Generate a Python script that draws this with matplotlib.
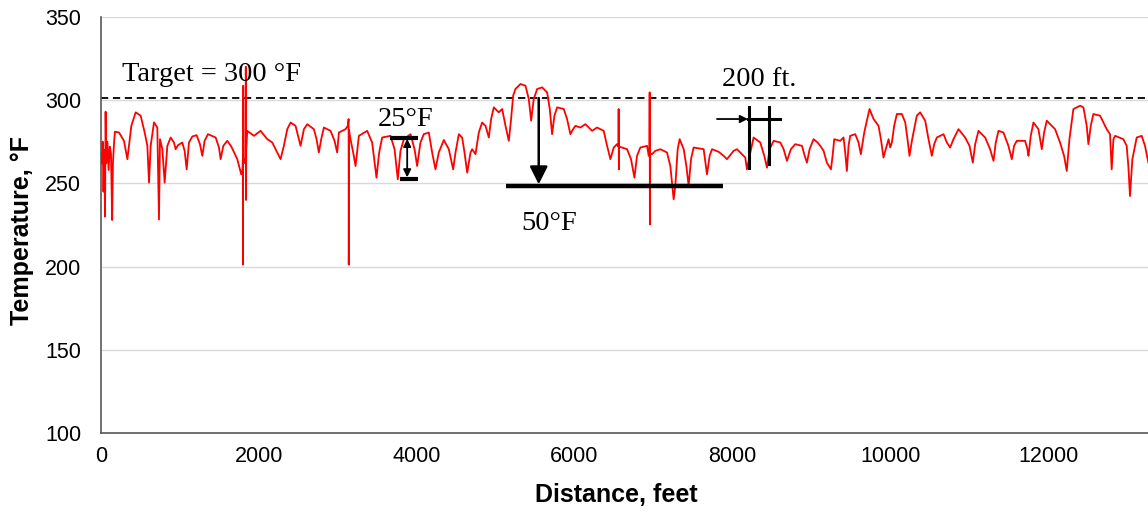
import numpy as np
import matplotlib
matplotlib.use("Agg")
import matplotlib.pyplot as plt

# Temperature trace (distance in feet, temperature in F)
distance = [
    5, 15, 25, 35, 45, 55, 62, 70, 85, 100, 115, 130, 145, 155, 170, 180,
    232, 295, 338, 388, 443, 506, 557, 591, 612, 633, 675, 717, 738, 751,
    781, 810, 844, 886, 928, 949, 979, 1034, 1063, 1089, 1118, 1160, 1215,
    1257, 1287, 1316, 1359, 1456, 1498, 1519, 1553, 1603, 1654, 1730, 1780,
    1797, 1800, 1802, 1805, 1810, 1814, 1836, 1838, 1840, 1843, 1856, 1941,
    2025, 2110, 2173, 2236, 2278, 2320, 2363, 2405, 2468, 2510, 2531, 2574,
    2616, 2700, 2734, 2763, 2793, 2827, 2911, 2962, 2995, 3017, 3101, 3130,
    3140, 3142, 3145, 3164, 3198, 3228, 3270, 3375, 3438, 3493, 3527, 3565,
    3671, 3722, 3763, 3797, 3840, 3924, 3975, 4008, 4050, 4092, 4156, 4198,
    4240, 4282, 4346, 4409, 4464, 4494, 4536, 4578, 4608, 4642, 4684, 4705,
    4747, 4789, 4831, 4874, 4916, 4945, 4979, 5042, 5085, 5127, 5169, 5198,
    5224, 5253, 5317, 5380, 5422, 5452, 5485, 5528, 5591, 5654, 5688, 5717,
    5747, 5781, 5865, 5907, 5949, 5983, 6013, 6076, 6139, 6181, 6224, 6287,
    6371, 6414, 6456, 6498, 6540, 6558, 6560, 6563, 6566, 6603, 6667, 6717,
    6760, 6793, 6835, 6920, 6941, 6950, 6953, 6956, 6960, 6983, 7025, 7088,
    7173, 7215, 7257, 7278, 7308, 7333, 7384, 7418, 7447, 7477, 7510, 7637,
    7679, 7713, 7743, 7827, 7890, 7932, 8017, 8059, 8122, 8164, 8185, 8228,
    8270, 8354, 8405, 8439, 8472, 8523, 8608, 8650, 8692, 8742, 8797, 8882,
    8911, 8945, 8979, 9029, 9080, 9114, 9156, 9198, 9249, 9270, 9291, 9367,
    9409, 9430, 9451, 9472, 9493, 9557, 9599, 9628, 9671, 9704, 9738, 9789,
    9852, 9882, 9915, 9949, 9979, 10000, 10021, 10050, 10084, 10147, 10190,
    10219, 10244, 10278, 10337, 10379, 10443, 10485, 10527, 10557, 10590,
    10675, 10717, 10759, 10801, 10865, 10949, 11004, 11046, 11076, 11118,
    11202, 11265, 11308, 11337, 11371, 11434, 11497, 11540, 11569, 11603,
    11708, 11738, 11751, 11780, 11814, 11877, 11920, 11949, 11983, 12088,
    12151, 12202, 12236, 12270, 12320, 12405, 12447, 12489, 12510, 12540,
    12573, 12658, 12742, 12784, 12805, 12827, 12848, 12953, 12995, 13016,
    13037, 13067, 13122, 13185, 13227, 13270,
]
temperature = [
    268, 262, 275, 245, 270, 230, 293, 262, 275, 258, 272, 268, 228, 262, 275, 281,
    280.5, 275.5, 264.5, 284.5, 292.6, 290.6, 280.5, 272.5, 250.4, 272.5, 286.6,
    283.5, 228.3, 276.5, 270.5, 250.4, 272.5, 277.5, 274.5, 270.5, 272.9, 274.5,
    269.5, 258.4, 274.5, 278.1, 278.9, 273.5, 266.5, 275.5, 279.5, 277.5, 271.5,
    264.5, 272.5, 275.5, 272.1, 264.5, 255.4, 258.4, 264, 201.2, 308.6, 262,
    264.5, 262, 320, 240, 270, 281.5, 278.5, 281.5, 276.5, 274.5, 268.5, 264.5,
    272.5, 282.5, 286.5, 284.5, 276.5, 272.5, 282.5, 285.5, 282.5, 276.5, 268.5,
    276.5, 283.5, 281.5, 275.5, 268.5, 280.5, 282.5, 284.5, 288.6, 201.2, 282,
    276.5, 268.5, 260.4, 278.5, 281.5, 274.5, 253.4, 268.5, 277.5, 278.5, 270.5,
    252.4, 269.5, 276.5, 279.5, 270.5, 260.4, 274.5, 279.5, 280.5, 268.5, 258.4,
    268.5, 276, 270.5, 258.4, 268.5, 279.5, 277.5, 268.5, 256.4, 268.5, 270.5,
    267.5, 280.5, 286.5, 284.5, 277.5, 288.6, 295.6, 292.6, 294.6, 284.5, 275.5,
    288.6, 302.6, 306.6, 309.6, 308.6, 300.6, 287.6, 300.6, 306.6, 307.6, 304.6,
    294.6, 279.5, 290.6, 295.6, 294.6, 288.6, 279.5, 282.5, 284.5, 283.5, 285.5,
    283.5, 281.5, 283.5, 281.5, 272.5, 264.5, 271.5, 273.5, 272, 294.6, 258.4,
    272, 271.5, 270.5, 264.5, 253.4, 266.5, 271.5, 272.5, 266.5, 268, 304.6,
    225.3, 268, 267.5, 269.5, 270.5, 268.5, 260.4, 240.4, 248.4, 270.5, 276.5,
    270.5, 260.4, 248.4, 264.5, 271.5, 270.5, 255.4, 266.5, 270.5, 268.9, 266.5,
    264.5, 269.5, 270.5, 267.5, 265.5, 258.4, 268.5, 277.5, 274.5, 266.5, 259.4,
    270.5, 275.5, 274.5, 270.5, 263.5, 270.5, 273.5, 272.5, 267.5, 262.4, 270.5,
    276.5, 274.5, 272.5, 269.5, 262.4, 258.4, 266.5, 276.5, 275.5, 277.5, 268.5,
    257.4, 272.5, 278.5, 279.5, 274.5, 267.5, 280.5, 287.6, 294.6, 288.6, 284.5,
    276.5, 265.5, 271.5, 276.5, 271.5, 274.5, 284.5, 291.6, 291.6, 286.6, 276.5,
    266.5, 276.5, 290.6, 292.6, 287.6, 276.5, 266.5, 273.5, 277.5, 279.5, 274.5,
    271.5, 276.5, 282.5, 277.5, 272.5, 262.4, 273.5, 281.5, 277.5, 270.5, 263.5,
    274.5, 281.5, 280.5, 272.5, 264.5, 272.5, 275.5, 275.5, 270.5, 266.5, 278.5,
    286.5, 282.5, 270.5, 280.5, 287.6, 282.5, 274.5, 266.5, 257.4, 276.5, 294.6,
    296.6, 295.6, 284.5, 273.5, 284.5, 291.6, 290.6, 282.5, 279.5, 258.4, 276.5,
    278.5, 276.5, 272.5, 260.4, 242.4, 264.5, 277.5, 278.5, 272.5, 262.4,
]

target = 301
x_ticks = [0, 2000, 4000, 6000, 8000, 10000, 12000]
y_ticks = [100, 150, 200, 250, 300, 350]

serif = "Liberation Serif"
sans = "Liberation Sans"

fig = plt.figure(figsize=(11.48, 5.14), dpi=100)
ax = fig.add_axes([100.7 / 1148, (514 - 433.3) / 514,
                   (1148 - 100.7) / 1148, (433.3 - 16.7) / 514])

ax.plot(distance, temperature, color="#ff0000", lw=1.3, zorder=3)
ax.axhline(target, color="black", lw=1.3, dashes=(4.0, 2.6), zorder=2)

ax.set_xlim(0, 13265)
ax.set_ylim(100, 350)
ax.set_xticks(x_ticks)
ax.set_yticks(y_ticks)
ax.grid(axis="y", color="#d9d9d9", lw=1)
ax.set_axisbelow(True)
for s in ["top", "right"]:
    ax.spines[s].set_visible(False)
for s in ["left", "bottom"]:
    ax.spines[s].set_color("#595959")
    ax.spines[s].set_linewidth(1.2)
ax.tick_params(length=0, labelsize=15.5)
ax.tick_params(axis="x", pad=9)
ax.tick_params(axis="y", pad=14)
for lab in ax.get_xticklabels() + ax.get_yticklabels():
    lab.set_fontfamily(sans)

ax.set_xlabel("Distance, feet", fontfamily=sans, fontsize=18, fontweight="bold")
ax.set_ylabel("Temperature, \u00b0F", fontfamily=sans, fontsize=18, fontweight="bold")
ax.xaxis.set_label_coords(0.492, -0.12)
ax.yaxis.set_label_coords(-0.0637, 0.486)

# annotations
ax.text(274, 311.6, "Target = 300 \u00b0F", fontfamily=serif, fontsize=20.5, va="baseline")
ax.text(3510, 284.2, "25\u00b0F", fontfamily=serif, fontsize=20.5, va="baseline")
ax.text(5329, 221.9, "50\u00b0F", fontfamily=serif, fontsize=20.5, va="baseline")
ax.text(7868, 308.6, "200 ft.", fontfamily=serif, fontsize=20.5, va="baseline")

# 25 F range marker
ax.plot([3658, 4013], [277.5, 277.5], color="black", lw=3, solid_capstyle="butt", zorder=4)
ax.plot([3785, 4013], [252.8, 252.8], color="black", lw=3, solid_capstyle="butt", zorder=4)
ax.annotate("", xy=(3882, 253.6), xytext=(3882, 276.7),
            arrowprops=dict(arrowstyle="<|-|>,head_length=0.5,head_width=0.25",
                            mutation_scale=9, lw=1.3, color="black",
                            shrinkA=0, shrinkB=0), zorder=4)

# 50 F drop marker
ax.plot([5139, 7881], [248.4, 248.4], color="black", lw=3.2, solid_capstyle="butt", zorder=4)
ax.annotate("", xy=(5548, 249.4), xytext=(5548, 301.2),
            arrowprops=dict(arrowstyle="-|>,head_length=0.4,head_width=0.2",
                            mutation_scale=27, lw=1.8, color="black",
                            shrinkA=0, shrinkB=0), zorder=4)

# 200 ft spacing marker
ax.plot([8206, 8206], [295.6, 259.5], color="black", lw=2.2, zorder=4)
ax.plot([8468, 8468], [295.6, 261.4], color="black", lw=2.2, zorder=4)
ax.plot([8198, 8607], [288.6, 288.6], color="black", lw=2.2, zorder=4)
ax.annotate("", xy=(8198, 288.6), xytext=(7806, 288.6),
            arrowprops=dict(arrowstyle="-|>,head_length=0.5,head_width=0.25",
                            mutation_scale=9, lw=1.3, color="black",
                            shrinkA=0, shrinkB=0), zorder=4)

fig.savefig("out.png", dpi=100)
